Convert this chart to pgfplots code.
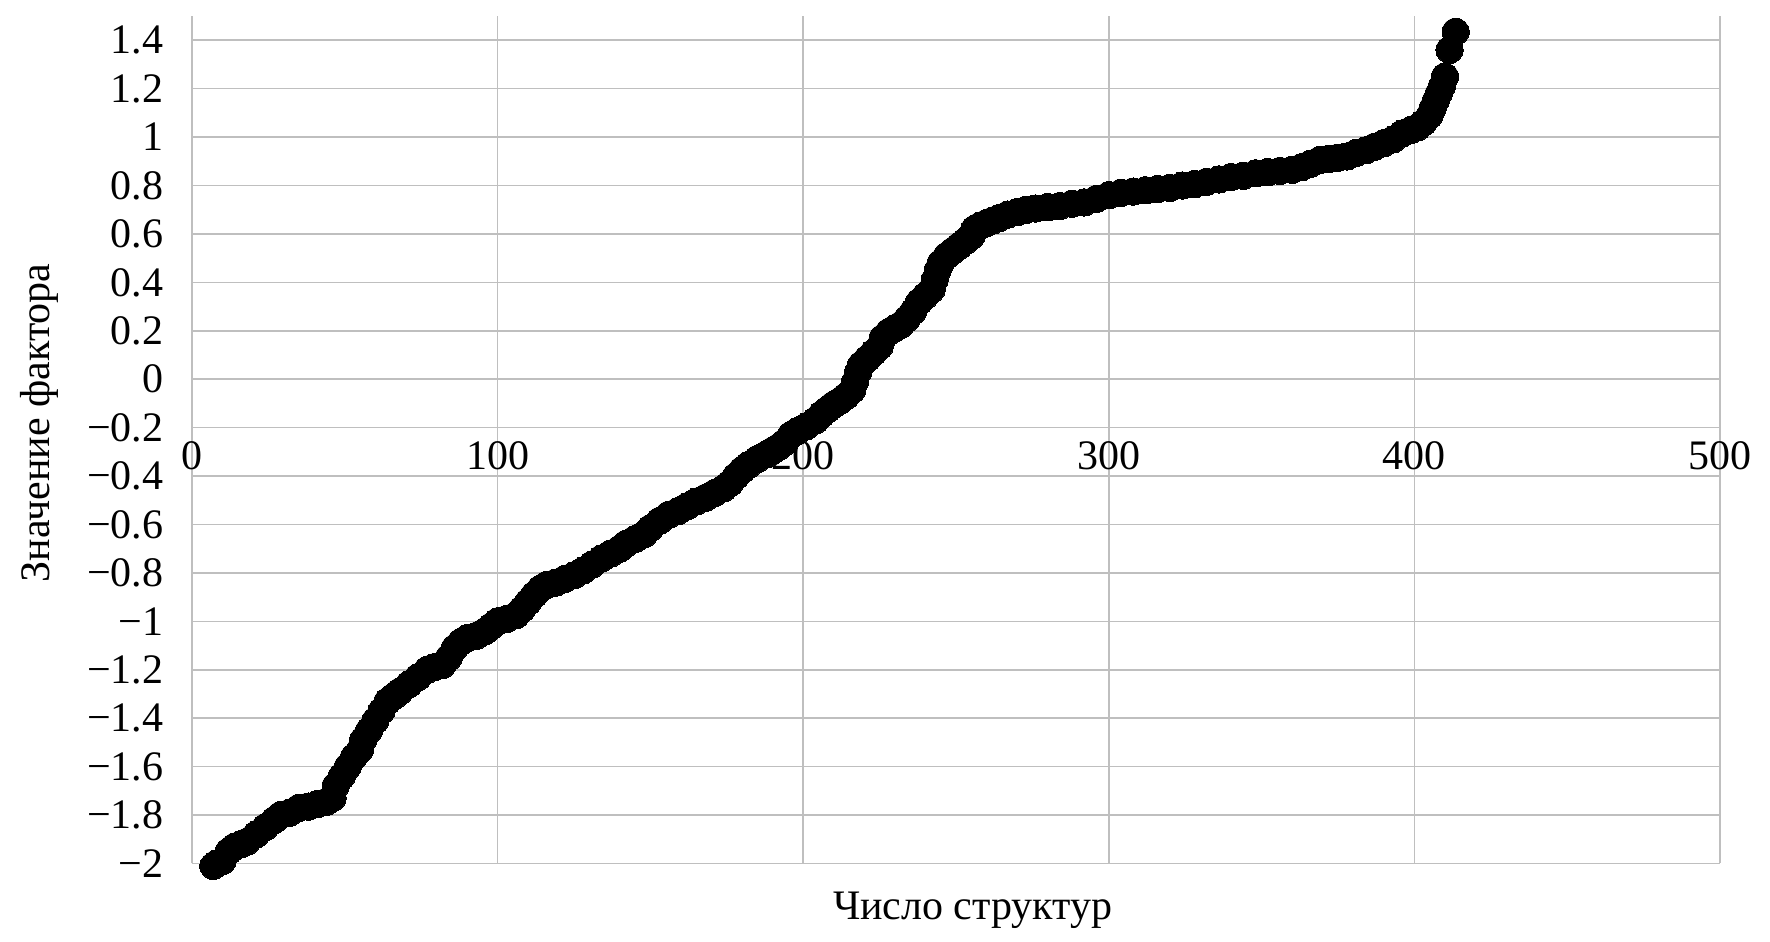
\documentclass[border=0pt]{standalone}
\usepackage{fontspec}
\setmainfont{Liberation Serif}
\usepackage{pgfplots}
\usepackage{pgfplotstable}
\pgfplotsset{compat=1.18}
\pgfplotstableread{
x y
7 -2.01
8 -2.00
10 -1.99
12 -1.95
14 -1.93
16 -1.92
18 -1.91
21 -1.88
24 -1.85
27 -1.82
29 -1.80
32 -1.79
35 -1.77
38 -1.765
41 -1.755
44 -1.745
46 -1.73
47 -1.68
49 -1.64
51 -1.60
53 -1.56
55 -1.53
56 -1.49
58 -1.45
60 -1.41
62 -1.37
64 -1.33
66 -1.31
68 -1.29
71 -1.26
74 -1.23
77 -1.20
79 -1.19
82 -1.18
84 -1.15
86 -1.11
88 -1.085
90 -1.07
93 -1.06
96 -1.04
98 -1.02
100 -1.00
103 -0.99
106 -0.975
108 -0.95
110 -0.92
112 -0.89
114 -0.865
116 -0.85
119 -0.84
122 -0.825
125 -0.81
128 -0.79
131 -0.765
134 -0.74
137 -0.72
140 -0.70
142 -0.68
145 -0.66
148 -0.64
150 -0.615
153 -0.585
156 -0.56
159 -0.545
162 -0.525
165 -0.505
168 -0.49
171 -0.47
174 -0.45
176 -0.43
178 -0.40
180 -0.375
182 -0.355
185 -0.33
188 -0.31
190 -0.295
192 -0.28
194 -0.26
196 -0.23
198 -0.215
201 -0.195
204 -0.17
206 -0.145
208 -0.125
210 -0.105
212 -0.09
214 -0.07
216 -0.045
217 -0.01
218 0.03
219 0.06
221 0.085
223 0.11
225 0.135
226 0.17
228 0.195
230 0.21
232 0.225
234 0.25
236 0.28
238 0.32
240 0.345
242 0.37
243 0.41
244 0.45
245 0.48
247 0.51
249 0.53
251 0.55
253 0.57
255 0.59
256 0.62
258 0.635
260 0.645
262 0.655
264 0.665
267 0.68
270 0.69
273 0.70
276 0.705
280 0.71
284 0.715
288 0.725
292 0.73
296 0.745
300 0.76
304 0.77
308 0.775
312 0.78
316 0.785
320 0.79
324 0.80
328 0.805
332 0.815
336 0.825
340 0.835
344 0.84
348 0.85
352 0.855
356 0.86
360 0.865
363 0.875
366 0.89
369 0.905
372 0.91
375 0.915
378 0.92
381 0.935
384 0.945
387 0.96
390 0.975
393 0.99
396 1.015
399 1.03
401 1.04
403 1.06
405 1.09
406 1.12
407 1.15
408 1.18
409 1.21
410 1.25
411.5 1.36
413.5 1.435
}\datatable
\begin{document}
\begin{tikzpicture}
\useasboundingbox (-48pt,-19.625pt) rectangle (394.5pt,215.875pt);
\begin{axis}[
  at={(0,0)}, anchor=south west, scale only axis,
  width=382pt, height=211.875pt,
  xmin=0, xmax=500, ymin=-2, ymax=1.5,
  axis line style={draw=none},
  major tick length=0pt,
  xtick={0,100,200,300,400,500},
  xticklabels={0,100,200,300,400,500},
  ytick={-2,-1.8,-1.6,-1.4,-1.2,-1,-0.8,-0.6,-0.4,-0.2,0,0.2,0.4,0.6,0.8,1,1.2,1.4},
  yticklabels={−2,−1.8,−1.6,−1.4,−1.2,−1,−0.8,−0.6,−0.4,−0.2,0,0.2,0.4,0.6,0.8,1,1.2,1.4},
  grid=major,
  major grid style={color=black!25, line width=0.4pt},
  xticklabel style={font=\fontsize{10.5}{12}\selectfont, anchor=base, inner sep=0pt, yshift=98.4pt},
  yticklabel style={font=\fontsize{10.5}{12}\selectfont, anchor=east, inner sep=0pt, xshift=-7pt},
  xlabel={Число структур},
  xlabel style={at={(axis description cs:0.511,-0.0665)}, anchor=base, inner sep=0pt, font=\fontsize{10.5}{12}\selectfont},
  ylabel={Значение фактора},
  ylabel style={at={(axis description cs:-0.0997,0.52)}, anchor=center, inner sep=0pt, font=\fontsize{10.5}{12}\selectfont},
  clip=false,
]
\addplot[black, line width=0.75pt, mark=*, mark size=3.4pt, mark options={fill=black, draw=black, line width=0pt}] table[x=x,y=y] {\datatable};
\end{axis}
\end{tikzpicture}
\end{document}
